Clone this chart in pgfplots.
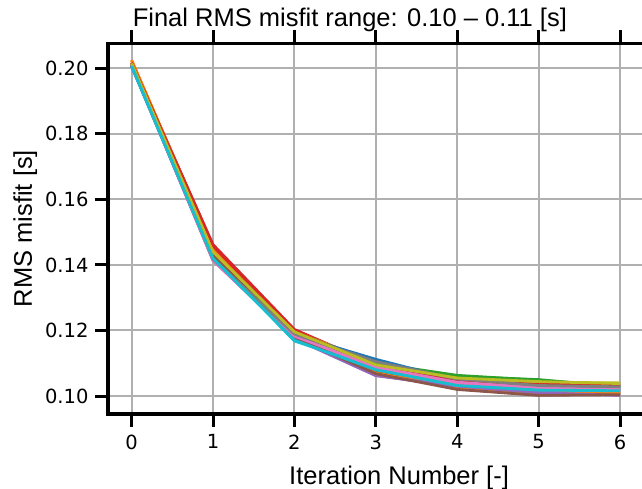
\documentclass[border=0pt]{standalone}
\usepackage{fontspec}
\setmainfont{Liberation Sans}
\newfontfamily\dejavu{DejaVu Sans}
\usepackage{pgfplots}
\usepackage{pgfplotstable}
\pgfplotsset{compat=1.18}

\definecolor{tblue}{HTML}{1F77B4}
\definecolor{torange}{HTML}{FF7F0E}
\definecolor{tgreen}{HTML}{2CA02C}
\definecolor{tred}{HTML}{D62728}
\definecolor{tpurple}{HTML}{9467BD}
\definecolor{tbrown}{HTML}{8C564B}
\definecolor{tpink}{HTML}{E377C2}
\definecolor{tgray}{HTML}{7F7F7F}
\definecolor{tolive}{HTML}{BCBD22}
\definecolor{tcyan}{HTML}{17BECF}
\definecolor{gridgray}{HTML}{B0B0B0}

% RMS misfit per iteration, one column per run
\pgfplotstableread{
it  s1     s2     s3     s4     s5     s6     s7     s8     s9     s10    s11    s12    s13    s14    s15    s16    s17    s18    s19    s20
0   0.2008 0.2024 0.2015 0.2018 0.2010 0.2012 0.2011 0.2013 0.2016 0.2009 0.2006 0.2025 0.2014 0.2017 0.2008 0.2010 0.2012 0.2014 0.2015 0.2007
1   0.1428 0.1455 0.1440 0.1462 0.1418 0.1432 0.1413 0.1415 0.1445 0.1425 0.1422 0.1450 0.1436 0.1458 0.1416 0.1430 0.1414 0.1418 0.1440 0.1420
2   0.1190 0.1185 0.1195 0.1203 0.1178 0.1182 0.1180 0.1187 0.1198 0.1168 0.1186 0.1176 0.1192 0.1200 0.1175 0.1180 0.1183 0.1189 0.1196 0.1170
3   0.1108 0.1075 0.1100 0.1095 0.1063 0.1072 0.1090 0.1102 0.1098 0.1085 0.1112 0.1070 0.1096 0.1090 0.1062 0.1068 0.1088 0.1105 0.1095 0.1080
4   0.1045 0.1035 0.1063 0.1055 0.1028 0.1022 0.1040 0.1050 0.1058 0.1030 0.1048 0.1025 0.1060 0.1045 0.1030 0.1020 0.1042 0.1052 0.1055 0.1032
5   0.1030 0.1012 0.1048 0.1040 0.1012 0.1003 0.1022 0.1035 0.1042 0.1020 0.1026 0.1008 0.1050 0.1036 0.1010 0.1002 0.1025 0.1032 0.1044 0.1018
6   0.1025 0.1013 0.1030 0.1035 0.1003 0.1006 0.1018 0.1030 0.1040 0.1020 0.1022 0.1010 0.1028 0.1033 0.1002 0.1004 0.1020 0.1028 0.1038 0.1016
}\misfit

\begin{document}
\begin{tikzpicture}
\useasboundingbox (-108pt,-75pt) rectangle (534pt,414pt);
\begin{axis}[
    at={(0,0)}, anchor=south west,
    scale only axis,
    width=538pt, height=370.7pt,
    xmin=-0.29, xmax=6.319,
    ymin=0.09451, ymax=0.20763,
    xtick={0,1,2,3,4,5,6},
    ytick={0.10,0.12,0.14,0.16,0.18,0.20},
    yticklabel style={/pgf/number format/fixed, /pgf/number format/fixed zerofill,
                      /pgf/number format/precision=2, xshift=-3pt},
    /pgf/number format/assume math mode=true,
    tick label style={font=\dejavu\fontsize{19.5}{21}\selectfont, black},
    xticklabel style={yshift=-4pt},
    tick align=outside,
    major tick length=13pt,
    every tick/.style={black, line width=3pt},
    axis line style={black, line width=3.2pt},
    grid=major,
    major grid style={gridgray, line width=2pt},
    title={Final RMS misfit range: 0.10 -- 0.11 [s]},
    title style={at={(axis description cs:0.4496,1.0297)}, anchor=base,
                 font=\fontsize{25.5}{28}\selectfont, inner sep=0pt},
    xlabel={Iteration Number [-]},
    xlabel style={at={(axis description cs:0.541,-0.1915)}, anchor=base,
                  font=\fontsize{25.5}{28}\selectfont, inner sep=0pt},
    ylabel={RMS misfit [s]},
    ylabel style={at={(axis description cs:-0.1413,0.5)}, anchor=base, rotate=0,
                  font=\fontsize{25.5}{28}\selectfont, inner sep=0pt},
    every axis plot/.append style={line width=2.8pt, no markers, line join=round},
]
\addplot[tblue]   table[x=it, y=s1]  {\misfit};
\addplot[torange] table[x=it, y=s2]  {\misfit};
\addplot[tgreen]  table[x=it, y=s3]  {\misfit};
\addplot[tred]    table[x=it, y=s4]  {\misfit};
\addplot[tpurple] table[x=it, y=s5]  {\misfit};
\addplot[tbrown]  table[x=it, y=s6]  {\misfit};
\addplot[tpink]   table[x=it, y=s7]  {\misfit};
\addplot[tgray]   table[x=it, y=s8]  {\misfit};
\addplot[tolive]  table[x=it, y=s9]  {\misfit};
\addplot[tcyan]   table[x=it, y=s10] {\misfit};
\addplot[tblue]   table[x=it, y=s11] {\misfit};
\addplot[torange] table[x=it, y=s12] {\misfit};
\addplot[tgreen]  table[x=it, y=s13] {\misfit};
\addplot[tred]    table[x=it, y=s14] {\misfit};
\addplot[tpurple] table[x=it, y=s15] {\misfit};
\addplot[tbrown]  table[x=it, y=s16] {\misfit};
\addplot[tpink]   table[x=it, y=s17] {\misfit};
\addplot[tgray]   table[x=it, y=s18] {\misfit};
\addplot[tolive]  table[x=it, y=s19] {\misfit};
\addplot[tcyan]   table[x=it, y=s20] {\misfit};
\end{axis}
\end{tikzpicture}
\end{document}
